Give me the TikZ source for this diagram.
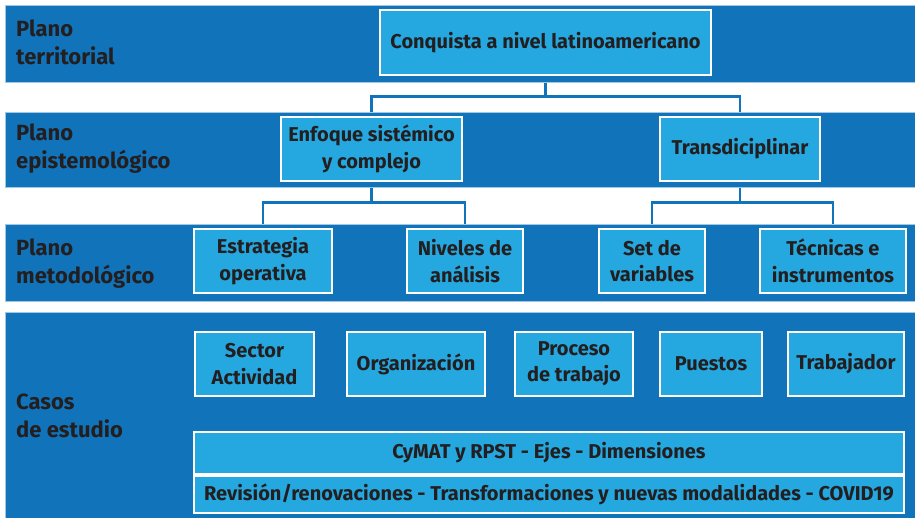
\documentclass[tikz,border=0pt]{standalone}
\usepackage{fontspec}
\setmainfont{Fira Sans}
\usepackage{xcolor}
\usetikzlibrary{calc}

\definecolor{bandblue}{HTML}{1174BB}
\definecolor{boxblue}{HTML}{25A8E0}
\definecolor{inkgray}{HTML}{231F20}

\tikzset{
  band/.style={fill=bandblue, draw=bandblue!40, line width=0.6pt, anchor=north west,
    inner sep=0pt, minimum width=910pt},
  plane/.style={anchor=west, align=left, inner sep=0pt, text=inkgray, font=\bfseries\fontsize{22}{28}\selectfont},
  cell/.style={fill=boxblue, draw=white, line width=2pt, align=center, inner sep=0pt,
    text=inkgray, font=\bfseries\fontsize{20}{26.5}\selectfont},
  link/.style={draw=bandblue, line width=2.5pt}
}

\begin{document}
\begin{tikzpicture}[x=1pt, y=-1pt]
  \useasboundingbox (0,0) rectangle (915,518);

  % Bands
  \node[band, minimum height=77pt] (terr) at (5,5) {};
  \node[band, minimum height=75pt] (epis) at (5,112) {};
  \node[band, minimum height=77pt] (meto) at (5,224) {};
  \node[band, minimum height=207pt] (casos) at (5,312) {};

  \node[plane] (lterr) at (16,42) {Plano\\territorial};
  \node[plane] (lepis) at (16,149) {Plano\\epistemológico};
  \node[plane] (lmeto) at (16,264) {Plano\\metodológico};
  \node[plane] (lcasos) at (16,416) {Casos\\de estudio};

  % Plano territorial
  \node[cell, minimum width=331pt, minimum height=65pt] (conq) at (545.5,42.5) {Conquista a nivel latinoamericano};

  % Plano epistemologico
  \node[cell, minimum width=181pt, minimum height=64pt] (enfoq) at (371.5,149) {Enfoque sistémico\\y complejo};
  \node[cell, minimum width=160pt, minimum height=64pt] (trans) at (740,149) {Transdiciplinar};

  % Plano metodologico
  \node[cell, minimum width=138pt, minimum height=64pt] (estr) at (263,261) {Estrategia\\operativa};
  \node[cell, minimum width=116pt, minimum height=64pt] (nivel) at (465,261) {Niveles de\\análisis};
  \node[cell, minimum width=106pt, minimum height=64pt] (setv) at (652,261) {Set de\\variables};
  \node[cell, minimum width=146pt, minimum height=64pt] (tecn) at (833,261) {Técnicas e\\instrumentos};

  % Casos de estudio
  \node[cell, minimum width=119pt, minimum height=64pt] (sector) at (254.5,364) {Sector\\Actividad};
  \node[cell, minimum width=138pt, minimum height=64pt] (organ) at (416,364) {Organización};
  \node[cell, minimum width=118pt, minimum height=64pt] (proc) at (574,364) {Proceso\\de trabajo};
  \node[cell, minimum width=102pt, minimum height=64pt] (puest) at (711,364) {Puestos};
  \node[cell, minimum width=116pt, minimum height=64pt] (trab) at (846,364) {Trabajador};
  \node[cell, minimum width=710pt, minimum height=42pt] (cymat) at (549,453) {CyMAT y RPST - Ejes - Dimensiones};
  \node[cell, minimum width=710pt, minimum height=37pt] (revis) at (549,494) {Revisión/renovaciones - Transformaciones y nuevas modalidades - COVID19};

  % Connectors
  \draw[link] (conq |- terr.south) -- ++(0,14) coordinate (j1);
  \draw[link] (enfoq |- epis.north) -- (enfoq |- j1) -- (trans |- j1) -- (trans |- epis.north);

  \draw[link] (enfoq |- epis.south) -- ++(0,15) coordinate (j2);
  \draw[link] (estr |- meto.north) -- (estr |- j2) -- (nivel |- j2) -- (nivel |- meto.north);

  \draw[link] (trans |- epis.south) -- ++(0,15) coordinate (j3);
  \draw[link] (setv |- meto.north) -- (setv |- j3) -- (tecn |- j3) -- (tecn |- meto.north);
\end{tikzpicture}
\end{document}
